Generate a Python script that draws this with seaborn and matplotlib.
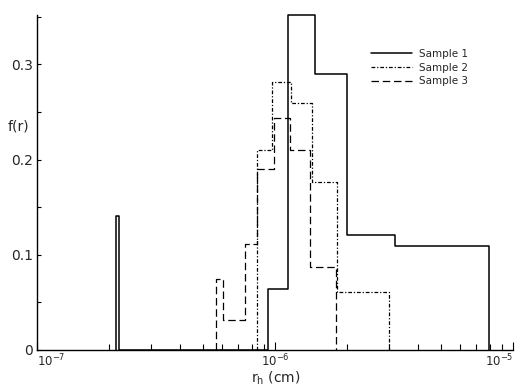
import matplotlib
matplotlib.use("Agg")
import matplotlib.pyplot as plt
import matplotlib.ticker as mticker
import numpy as np
import pandas as pd
import seaborn as sns

# bin edges (cm) and heights f(r)
s1_edges = [2.14e-7, 2.22e-7, 9.35e-7, 1.135e-6, 1.47e-6, 2.01e-6, 3.19e-6, 7.93e-6]
s1_heights = [0.141, 0.0, 0.064, 0.352, 0.290, 0.121, 0.109]

s2_edges = [8.4e-7, 9.7e-7, 1.168e-6, 1.43e-6, 1.82e-6, 3.01e-6]
s2_heights = [0.210, 0.282, 0.260, 0.177, 0.061]

s3_edges = [5.65e-7, 6.05e-7, 7.48e-7, 8.4e-7, 9.9e-7, 1.157e-6, 1.40e-6, 1.80e-6]
s3_heights = [0.075, 0.032, 0.111, 0.190, 0.244, 0.210, 0.087]

labels = ["Sample 1", "Sample 2", "Sample 3"]
x_ticks = [1e-7, 1e-6, 1e-5]
x_ticklabels = [r"$10^{-7}$", r"$10^{-6}$", r"$10^{-5}$"]
y_ticks = [0, 0.1, 0.2, 0.3]
y_ticklabels = ["0", "0.1", "0.2", "0.3"]


def step_frame(edges, heights):
    # closed outline: start at the baseline, hold each height to the next edge, drop back to 0
    x = [edges[0]] + list(edges)
    y = [0.0] + list(heights) + [0.0]
    return pd.DataFrame({"r": x, "f": y})


sns.set_style("ticks")
plt.rcParams["font.family"] = ["DejaVu Sans"]

fig = plt.figure(figsize=(5.19, 3.89), dpi=100)
ax = fig.add_axes([0.0713, 0.1003, 0.9171, 0.8611])

styles = [
    dict(linestyle="-", linewidth=1.1),
    dict(linestyle=(0, (3, 1.5, 1, 1.5)), linewidth=0.9),
    dict(linestyle=(0, (6, 3)), linewidth=0.9),
]
for (edges, heights), label, st in zip(
    [(s1_edges, s1_heights), (s2_edges, s2_heights), (s3_edges, s3_heights)], labels, styles
):
    sns.lineplot(
        data=step_frame(edges, heights), x="r", y="f", ax=ax, color="black",
        estimator=None, sort=False, drawstyle="steps-post", label=label,
        clip_on=False, **st,
    )

ax.set_xscale("log")
ax.set_xticks(x_ticks, labels=x_ticklabels)
ax.xaxis.set_minor_locator(mticker.LogLocator(base=10, subs=np.arange(2, 10)))
ax.xaxis.set_minor_formatter(mticker.NullFormatter())
for lbl, ha in zip(ax.get_xticklabels(), ["left", "center", "right"]):
    lbl.set_ha(ha)
ax.set_yticks(y_ticks, labels=y_ticklabels)
ax.yaxis.set_minor_locator(mticker.FixedLocator([0.05, 0.15, 0.25, 0.35]))
ax.set_xlim(1e-7, 1e-5)
ax.set_ylim(0, 0.352)

ax.tick_params(axis="both", which="both", direction="in", color="black", width=0.8)
ax.tick_params(axis="x", which="major", length=6, labelsize=8.5, pad=2)
ax.tick_params(axis="x", which="minor", length=4)
ax.tick_params(axis="y", which="both", length=3, labelsize=10, pad=3)

sns.despine(ax=ax)
for side in ["left", "bottom"]:
    ax.spines[side].set_color("black")
    ax.spines[side].set_linewidth(1.0)

ax.set_ylabel("f(r)", rotation=0, fontsize=10, ha="center", va="center")
ax.yaxis.set_label_coords(-0.038, 0.666)
ax.set_xlabel(r"r$_\mathregular{h}$ (cm)", fontsize=10)
ax.xaxis.set_label_coords(0.502, -0.06)

ax.legend(
    loc="upper left", bbox_to_anchor=(0.69, 0.914), frameon=False, fontsize=7.5,
    handlelength=4.0, handletextpad=0.6, labelspacing=0.35, borderpad=0,
)

fig.savefig("out.png", dpi=100)
